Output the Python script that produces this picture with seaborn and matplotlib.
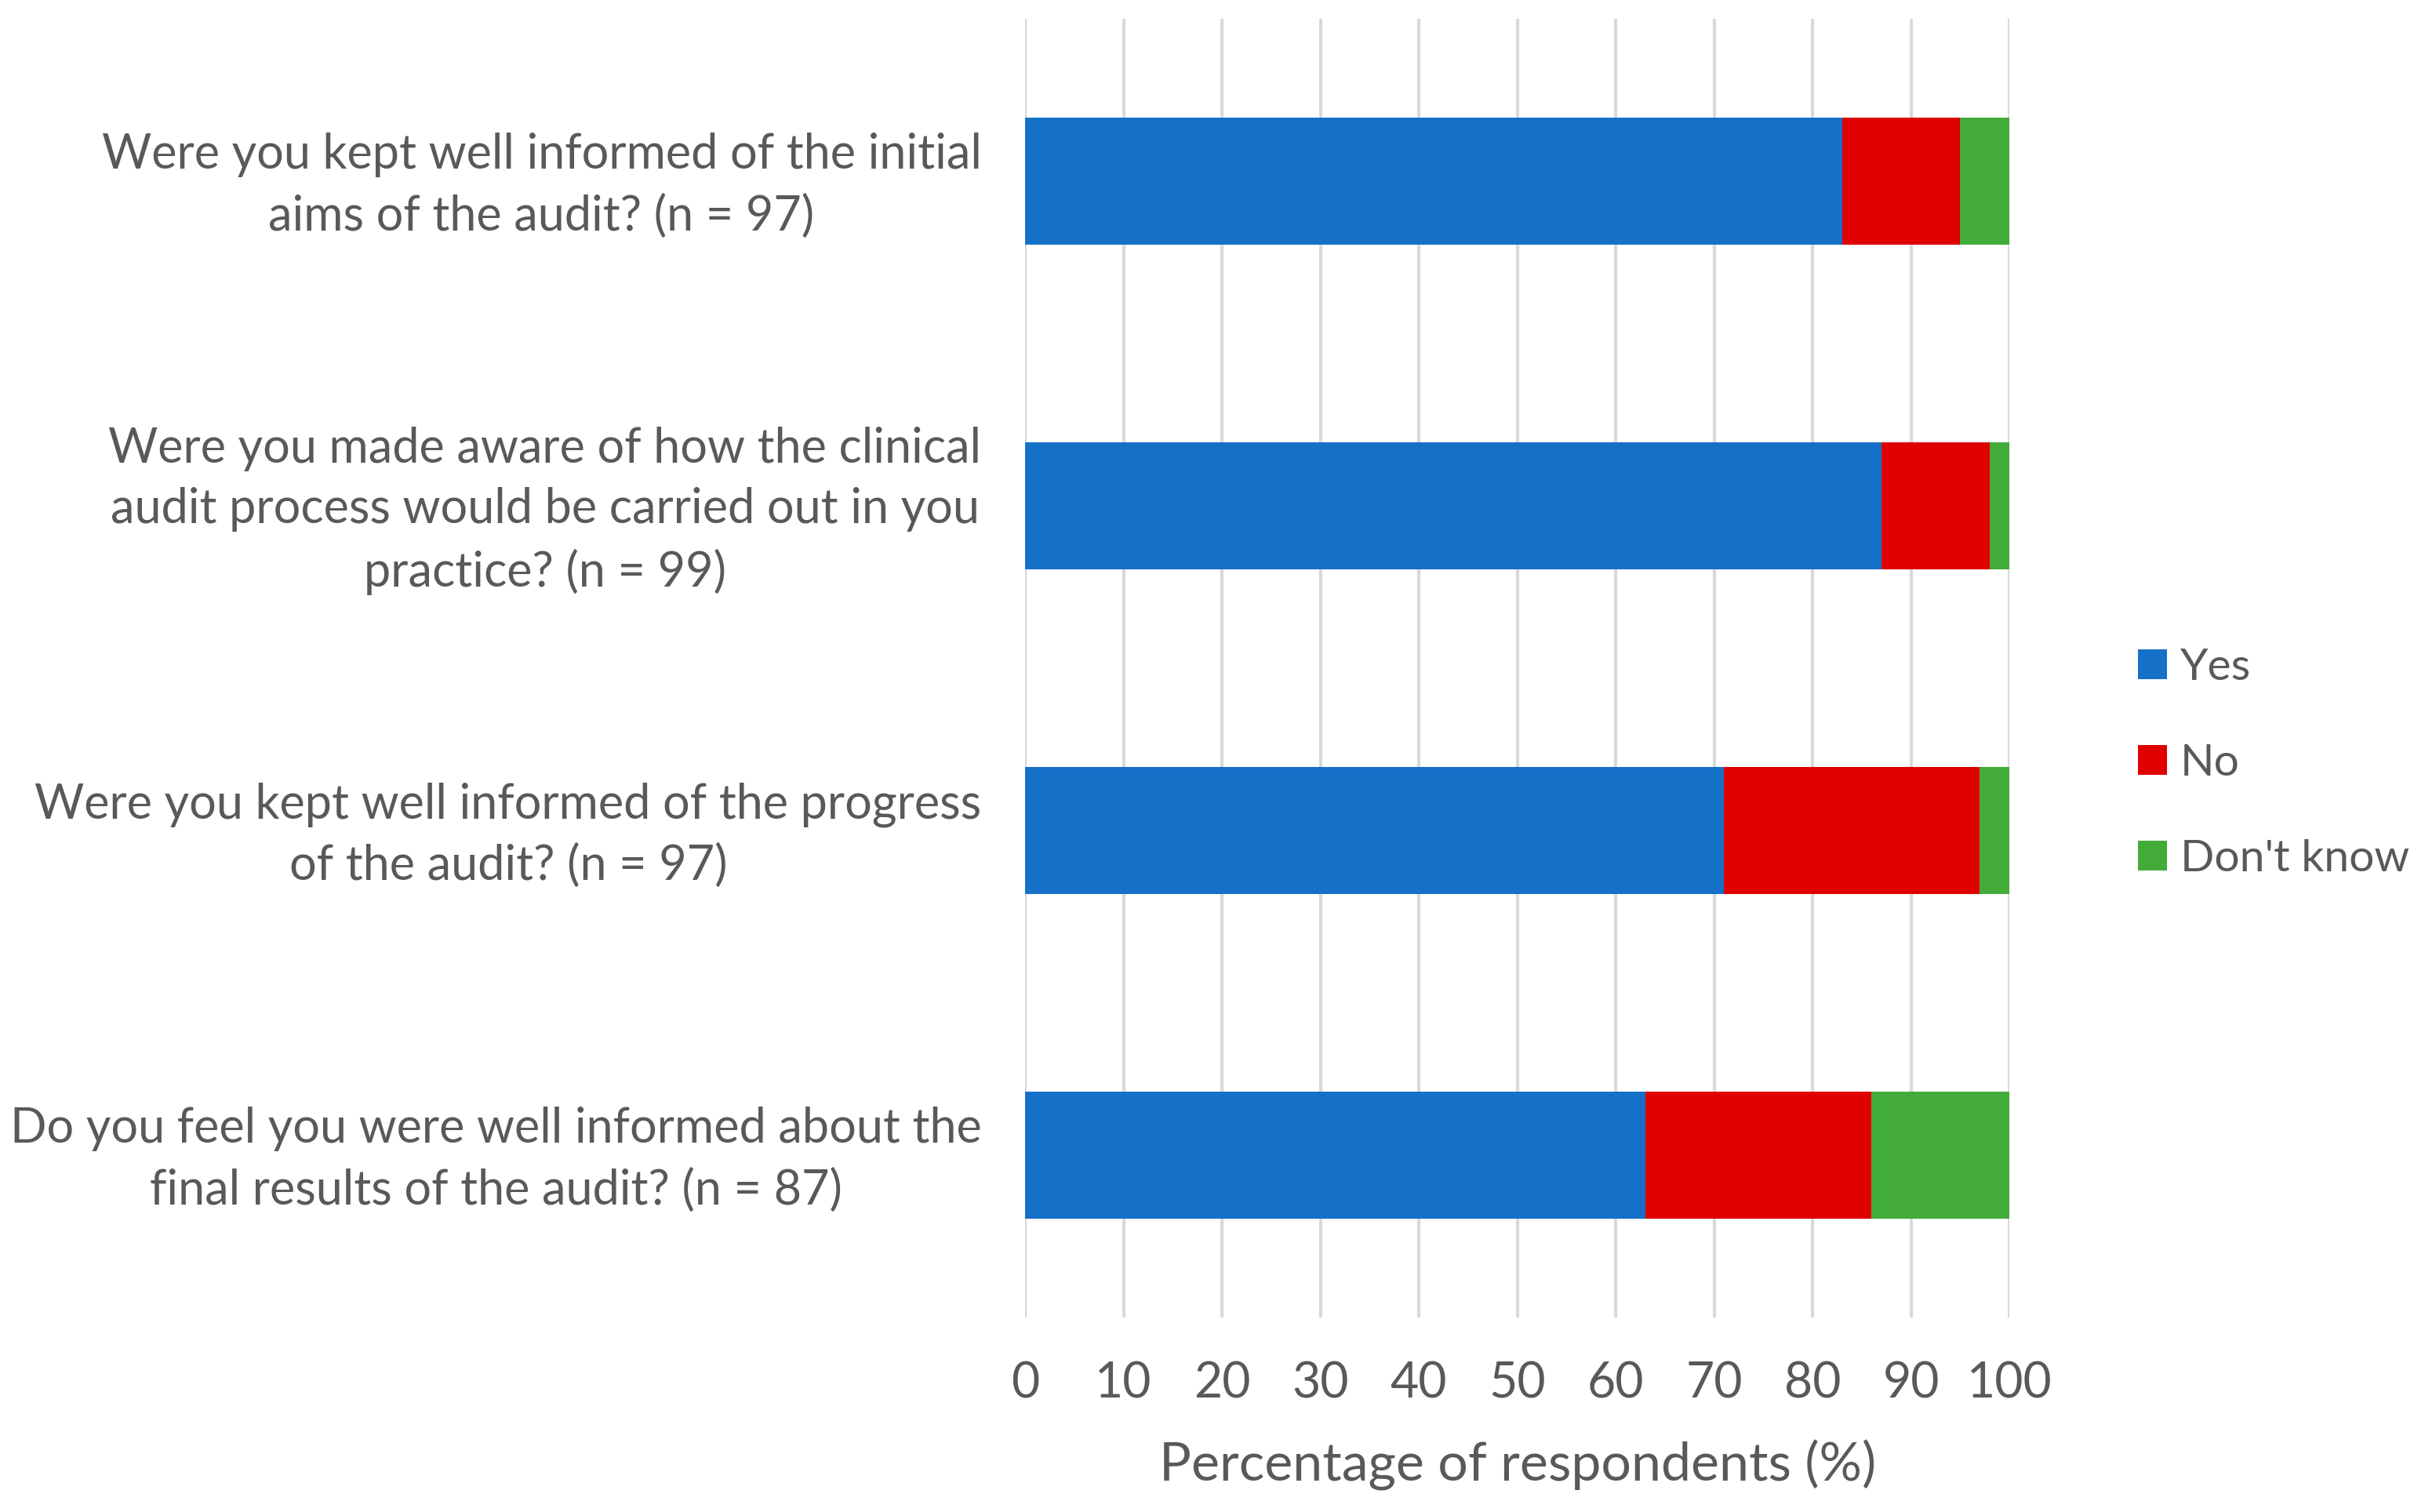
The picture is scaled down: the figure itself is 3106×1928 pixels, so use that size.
import numpy as np
import pandas as pd
import seaborn as sb
from matplotlib import pyplot as plt
from matplotlib.patches import Patch
from matplotlib.transforms import ScaledTranslation

# survey questions (top to bottom)
questions = [
    "Were you kept well informed of the initial\naims of the audit? (n = 97)",
    "Were you made aware of how the clinical\naudit process would be carried out in you\npractice? (n = 99)",
    "Were you kept well informed of the progress\nof the audit? (n = 97)",
    "Do you feel you were well informed about the\nfinal results of the audit? (n = 87)",
]
yes = [83, 87, 71, 63]
no = [12, 11, 26, 23]
dont_know = [5, 2, 3, 14]

answers = ["Yes", "No", "Don't know"]
colors = ["#1570C8", "#E00000", "#43AC39"]
text_col = "#595959"

sb.set_style("white")
plt.rcParams['font.family'] = ['Lato', 'DejaVu Sans']

df = pd.DataFrame({"question": questions, "Yes": yes, "No": no, "Don't know": dont_know})
df["c_yes"] = df["Yes"]
df["c_no"] = df["Yes"] + df["No"]
df["c_dk"] = df["c_no"] + df["Don't know"]

fig = plt.figure(figsize=(15.53, 9.64), dpi=200)
ax = fig.add_axes([0.4208, 0.1286, 0.4041, 0.859])

# stacked bars: draw cumulative totals, largest first
for col, c in zip(["c_dk", "c_no", "c_yes"], colors[::-1]):
    sb.barplot(data=df, x=col, y="question", color=c, orient="h",
               width=0.39, ax=ax, saturation=1, edgecolor="none", zorder=3)

ax.set_xlim(0, 100)
ax.set_ylim(3.5, -0.5)
ax.set_xticks(np.arange(0, 101, 10))
ax.grid(axis="x", color="#D9D9D9", linewidth=1.5, zorder=0)
ax.set_axisbelow(True)
ax.grid(axis="y", visible=False)
sb.despine(ax=ax, left=True, bottom=True)

ax.tick_params(axis="x", length=0, pad=20, labelsize=22.5, labelcolor=text_col)
ax.tick_params(axis="y", length=0, pad=20, labelsize=22, labelcolor=text_col)
shift = ScaledTranslation(0, 0.05, fig.dpi_scale_trans)
for lbl in ax.get_yticklabels():
    lbl.set_multialignment("center")
    lbl.set_linespacing(1.45)
    lbl.set_transform(lbl.get_transform() + shift)

ax.set_ylabel("")
ax.set_xlabel("Percentage of respondents (%)", fontsize=24.5, color=text_col, labelpad=15)

handles = [Patch(facecolor=c, edgecolor="none") for c in colors]
fig.legend(handles, answers, loc="center left", bbox_to_anchor=(0.861, 0.495),
           frameon=False, fontsize=20.5, labelcolor=text_col,
           handlelength=0.65, handleheight=0.65, handletextpad=0.3, labelspacing=1.25)

plt.savefig("out.png", dpi=200)
